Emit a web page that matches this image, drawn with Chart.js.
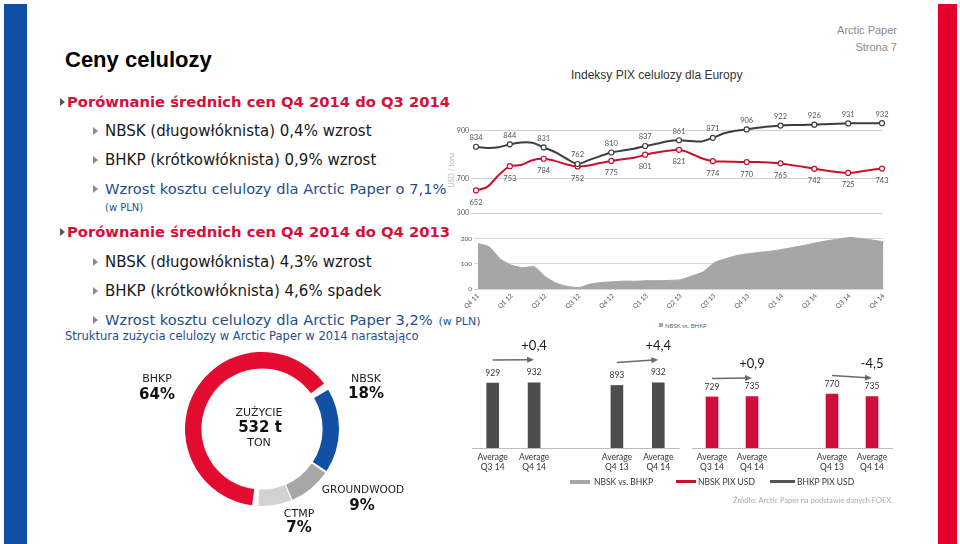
<!DOCTYPE html>
<html lang="pl"><head><meta charset="utf-8">
<script src="https://cdn.jsdelivr.net/npm/chart.js@4.4.1/dist/chart.umd.min.js"></script>
<style>
html,body{margin:0;padding:0}
body{width:960px;height:544px;position:relative;overflow:hidden;background:#fff;font-family:"DejaVu Sans",Verdana,sans-serif}
.t{position:absolute;white-space:nowrap;line-height:1;transform:translateY(-50%)}
.c{transform:translate(-50%,-50%)}
.tri{position:absolute;width:0;height:0;border-left:5px solid #8c8c8c;border-top:4px solid transparent;border-bottom:4px solid transparent;transform:translateY(-50%)}
canvas{position:absolute}
.h{color:#d4103a;font-weight:bold;font-size:14.75px}
.b{color:#1a1a1a;font-size:15px}
.bl{color:#1f4e8c;font-size:14.65px}
.lg{font-family:Lato,sans-serif;font-size:8.5px;color:#333}
</style></head><body>
<div style="position:absolute;left:4px;top:4px;width:23px;height:540px;background:#0d4ea6"></div>
<div style="position:absolute;left:938px;top:4px;width:19px;height:540px;background:#e4002b"></div>

<div class="t" style="left:65px;top:60px;font:bold 22px 'Liberation Sans',Arial,sans-serif;color:#000">Ceny celulozy</div>
<div class="t" style="right:63px;top:30px;font:11px 'Liberation Sans',Arial,sans-serif;color:#8a8a8a">Arctic Paper</div>
<div class="t" style="right:63px;top:47px;font:11px 'Liberation Sans',Arial,sans-serif;color:#8a8a8a">Strona 7</div>
<div class="t" style="left:571px;top:75px;font:12px 'Liberation Sans',Arial,sans-serif;color:#333">Indeksy PIX celulozy dla Europy</div>

<div class="tri" style="left:60px;top:102px;border-left-color:#555"></div>
<div class="t h" style="left:67px;top:102px">Porównanie średnich cen Q4 2014 do Q3 2014</div>
<div class="tri" style="left:93px;top:131px"></div>
<div class="t b" style="left:105px;top:131px">NBSK (długowłóknista) 0,4% wzrost</div>
<div class="tri" style="left:93px;top:160px"></div>
<div class="t b" style="left:105px;top:160px">BHKP (krótkowłóknista) 0,9% wzrost</div>
<div class="tri" style="left:93px;top:189px"></div>
<div class="t bl" style="left:105px;top:189px">Wzrost kosztu celulozy dla Arctic Paper o 7,1%</div>
<div class="t" style="left:105px;top:208px;font-size:10px;color:#1f4e8c">(w PLN)</div>

<div class="tri" style="left:60px;top:232px;border-left-color:#555"></div>
<div class="t h" style="left:67px;top:232px">Porównanie średnich cen Q4 2014 do Q4 2013</div>
<div class="tri" style="left:93px;top:262px"></div>
<div class="t b" style="left:105px;top:262px">NBSK (długowłóknista) 4,3% wzrost</div>
<div class="tri" style="left:93px;top:291px"></div>
<div class="t b" style="left:105px;top:291px">BHKP (krótkowłóknista) 4,6% spadek</div>
<div class="tri" style="left:93px;top:320px"></div>
<div class="t bl" style="left:105px;top:320px">Wzrost kosztu celulozy dla Arctic Paper 3,2% <span style="font-size:11px;margin-left:1px">(w PLN)</span></div>
<div class="t" style="left:65px;top:337px;font-size:11.5px;color:#1f4e8c">Struktura zużycia celulozy w Arctic Paper w 2014 narastająco</div>

<div class="t" style="left:451px;top:170px;font:7px Lato,sans-serif;color:#b5b5b5;transform:translate(-50%,-50%) rotate(-90deg)">USD / tona</div>

<canvas id="cLine" width="446" height="120" style="left:446px;top:100px"></canvas>
<canvas id="cArea" width="446" height="83" style="left:446px;top:228px"></canvas>
<div style="position:absolute;left:659px;top:323px;width:4px;height:4px;background:#a6a6a6"></div>
<div class="t" style="left:665px;top:325px;font:6px Lato,sans-serif;color:#666">NBSK vs. BHKP</div>

<canvas id="cBarG" width="216" height="148" style="left:466px;top:330px"></canvas>
<canvas id="cBarR" width="215" height="148" style="left:680px;top:330px"></canvas>

<div style="position:absolute;left:570px;top:480px;width:20px;height:4px;background:#a6a6a6"></div>
<div class="t lg" style="left:594px;top:482px">NBSK vs. BHKP</div>
<div style="position:absolute;left:676px;top:480px;width:20px;height:3px;background:#c8102e"></div>
<div class="t lg" style="left:698px;top:482px">NBSK PIX USD</div>
<div style="position:absolute;left:770px;top:480px;width:25px;height:3px;background:#555"></div>
<div class="t lg" style="left:797px;top:482px">BHKP PIX USD</div>
<div class="t" style="left:733px;top:500px;font:7.5px Lato,sans-serif;color:#aaa">Źródło: Arctic Paper na podstawie danych FOEX.</div>

<canvas id="cDonut" width="154" height="154" style="left:185px;top:352px"></canvas>
<div class="t c" style="left:259px;top:412px;font-size:11px;color:#222">ZUŻYCIE</div>
<div class="t c" style="left:260px;top:427px;font-size:15px;font-weight:bold;color:#111">532 t</div>
<div class="t c" style="left:259px;top:442px;font-size:11px;color:#222">TON</div>
<div class="t c" style="left:157px;top:378px;font-size:11px;color:#222">BHKP</div>
<div class="t c" style="left:157px;top:394px;font-size:15px;font-weight:bold;color:#111">64%</div>
<div class="t c" style="left:366px;top:378px;font-size:11px;color:#222">NBSK</div>
<div class="t c" style="left:366px;top:393px;font-size:15px;font-weight:bold;color:#111">18%</div>
<div class="t c" style="left:363px;top:489px;font-size:10.5px;color:#222">GROUNDWOOD</div>
<div class="t c" style="left:362px;top:505px;font-size:15px;font-weight:bold;color:#111">9%</div>
<div class="t c" style="left:299px;top:513px;font-size:11px;color:#222">CTMP</div>
<div class="t c" style="left:299px;top:527px;font-size:15px;font-weight:bold;color:#111">7%</div>

<script>
// ---- data ----
const quarterLabels = ['Q4 11','Q1 12','Q2 12','Q3 12','Q4 12','Q1 13','Q2 13','Q3 13','Q4 13','Q1 14','Q2 14','Q3 14','Q4 14'];
const markerStep = 3; // monthly points, markers at quarter points
const nbskPix = [834,829,832,844,852,851,831,812,785,762,778,795,810,818,826,837,846,857,861,858,856,871,890,901,906,913,918,922,924,925,926,928,930,931,932,932,932];
const bhkpPix = [652,667,715,753,758,778,784,775,761,752,756,766,775,782,788,801,810,817,821,807,786,774,772,771,770,770,768,765,757,751,742,735,729,725,730,737,743];
const pixTickLabels = ['300','700','900'];
const pixTickValues = [558,700,900]; // axis is broken below 700: the '300' line sits at 558
const spreadTicks = [0,100,200];
const spread = [180,167,118,94,84,88,48,22,10,6,20,26,29,31,31,33,33,34,37,52,68,105,120,133,140,145,150,157,165,173,183,191,198,204,200,194,187];
const barCats = [['Average','Q3 14'],['Average','Q4 14'],'',['Average','Q4 13'],['Average','Q4 14']];
const nbskAvg = [929,932,null,893,932];
const bhkpAvg = [729,735,null,770,735];
const nbskDelta = ['+0,4','+4,4'];
const bhkpDelta = ['+0,9','-4,5'];
const pulpNames = ['BHKP','NBSK','GROUNDWOOD','CTMP'];
const pulpShares = [64,18,9,7];

const monthLabels = Array.from({length: nbskPix.length}, (_, i) => i % markerStep === 0 ? quarterLabels[i / markerStep] : '');

// ---- plugins ----
const pointLabels = {
  id: 'pointLabels',
  afterDatasetsDraw(chart, args, opts) {
    const ctx = chart.ctx;
    ctx.save();
    ctx.font = opts.font; ctx.fillStyle = opts.color;
    ctx.textAlign = 'center'; ctx.textBaseline = 'middle';
    chart.data.datasets.forEach((ds, di) => {
      chart.getDatasetMeta(di).data.forEach((pt, i) => {
        if (i % markerStep !== 0) return;
        ctx.fillText(String(ds.data[i]), pt.x, pt.y + opts.offsets[di]);
      });
    });
    ctx.restore();
  }
};

const barAnnot = {
  id: 'barAnnot',
  afterDatasetsDraw(chart, args, opts) {
    const ctx = chart.ctx;
    const meta = chart.getDatasetMeta(0);
    const data = chart.data.datasets[0].data;
    ctx.save();
    ctx.textAlign = 'center'; ctx.textBaseline = 'middle';
    ctx.font = '8.5px Lato'; ctx.fillStyle = '#333';
    meta.data.forEach((bar, i) => {
      if (data[i] == null) return;
      ctx.fillText(String(data[i]), bar.x, bar.y - 10);
    });
    opts.pairs.forEach(([a, b], k) => {
      const A = meta.data[a], B = meta.data[b];
      const x1 = A.x, y1 = A.y - opts.gap, x2 = B.x, y2 = B.y - opts.gap;
      const ang = Math.atan2(y2 - y1, x2 - x1);
      ctx.strokeStyle = '#6a6a6a'; ctx.fillStyle = '#6a6a6a'; ctx.lineWidth = 1.5;
      ctx.beginPath(); ctx.moveTo(x1, y1);
      ctx.lineTo(x2 - 5 * Math.cos(ang), y2 - 5 * Math.sin(ang)); ctx.stroke();
      ctx.beginPath(); ctx.moveTo(x2, y2);
      ctx.lineTo(x2 - 7 * Math.cos(ang) + 3 * Math.sin(ang), y2 - 7 * Math.sin(ang) - 3 * Math.cos(ang));
      ctx.lineTo(x2 - 7 * Math.cos(ang) - 3 * Math.sin(ang), y2 - 7 * Math.sin(ang) + 3 * Math.cos(ang));
      ctx.closePath(); ctx.fill();
      ctx.font = '13px Lato'; ctx.fillStyle = '#1a1a1a';
      ctx.fillText(opts.deltas[k], x2, y2 - 14);
    });
    ctx.restore();
  }
};

Chart.defaults.font.family = 'Lato';
Chart.defaults.animation = false;
Chart.defaults.plugins.legend.display = false;
Chart.defaults.plugins.tooltip.enabled = false;

// ---- line chart ----
new Chart(document.getElementById('cLine'), {
  type: 'line',
  data: {
    labels: monthLabels,
    datasets: [
      { label: 'NBSK PIX USD', data: nbskPix, borderColor: '#3d3d3d', borderWidth: 2, tension: 0.3,
        pointRadius: nbskPix.map((_, i) => i % markerStep === 0 ? 2.5 : 0), pointBackgroundColor: '#fff', pointBorderColor: '#3d3d3d', pointBorderWidth: 1.2 },
      { label: 'BHKP PIX USD', data: bhkpPix, borderColor: '#c8102e', borderWidth: 2, tension: 0.3,
        pointRadius: bhkpPix.map((_, i) => i % markerStep === 0 ? 2.5 : 0), pointBackgroundColor: '#fff', pointBorderColor: '#c8102e', pointBorderWidth: 1.2 }
    ]
  },
  options: {
    responsive: false,
    layout: { padding: { top: 16, bottom: 7, right: 10, left: 0 } },
    scales: {
      x: { display: false },
      y: { min: 558, max: 962,
        afterBuildTicks: s => { s.ticks = pixTickValues.map(v => ({ value: v })); },
        afterFit: s => { s.width = 30; },
        ticks: { callback: v => pixTickLabels[pixTickValues.indexOf(v)], font: { size: 7 }, color: '#555', padding: 2 },
        grid: { color: '#cfcfcf', tickLength: 5 }, border: { display: false } }
    },
    plugins: { pointLabels: { font: '7.5px Lato', color: '#555', offsets: [-9, 12] } }
  },
  plugins: [pointLabels]
});

// ---- spread area chart ----
new Chart(document.getElementById('cArea'), {
  type: 'line',
  data: {
    labels: monthLabels,
    datasets: [{ label: 'NBSK vs. BHKP', data: spread, fill: 'origin', backgroundColor: '#a6a6a6', borderColor: '#a6a6a6', borderWidth: 1, pointRadius: 0, tension: 0.2 }]
  },
  options: {
    responsive: false,
    layout: { padding: { top: 8, right: 7, left: 0, bottom: 0 } },
    scales: {
      x: { afterFit: s => { s.height = 22; },
        ticks: { autoSkip: false, minRotation: 45, maxRotation: 45, font: { size: 6.5 }, color: '#555', padding: 3 },
        grid: { display: false, drawTicks: false }, border: { display: false } },
      y: { min: 0, max: 210,
        afterBuildTicks: s => { s.ticks = spreadTicks.map(v => ({ value: v })); },
        afterFit: s => { s.width = 32; },
        ticks: { font: { size: 6.5 }, color: '#555', padding: 2 },
        grid: { color: '#d6d6d6', tickLength: 4 }, border: { display: false } }
    }
  }
});

// ---- bar charts ----
function barChart(id, data, color, deltas, gap, padLeft) {
  return new Chart(document.getElementById(id), {
    type: 'bar',
    data: { labels: barCats, datasets: [{ data: data, backgroundColor: color, barThickness: 12 }] },
    options: {
      responsive: false,
      layout: { padding: { top: 48, left: padLeft, right: 3, bottom: 0 } },
      scales: {
        x: { afterFit: s => { s.height = 30; },
          ticks: { font: { size: 8.5 }, color: '#333', padding: 4, autoSkip: false, maxRotation: 0 },
          grid: { display: false, drawTicks: false }, border: { display: true, color: '#bdbdbd', width: 1 } },
        y: { display: false, min: 0, max: 1000 }
      },
      plugins: { barAnnot: { pairs: [[0, 1], [3, 4]], deltas: deltas, gap: gap } }
    },
    plugins: [barAnnot]
  });
}
barChart('cBarG', nbskAvg, '#4d4d4d', nbskDelta, 23, 6);
barChart('cBarR', bhkpAvg, '#d0103a', bhkpDelta, 18.5, 12);

// ---- donut ----
new Chart(document.getElementById('cDonut'), {
  type: 'doughnut',
  data: { labels: pulpNames, datasets: [{ data: pulpShares, backgroundColor: ['#e30b2f', '#1250a6', '#a7a7a7', '#d2d2d2'], borderWidth: 0, spacing: 5 }] },
  options: { responsive: false, cutout: '78%', rotation: 183 }
});
</script>
</body></html>
